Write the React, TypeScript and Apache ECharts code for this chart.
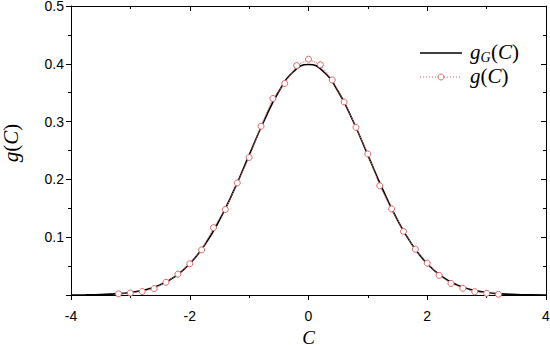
import { useEffect, useRef } from "react";
import * as echarts from "echarts";

const gaussC = [
  -4, -3.75, -3.5, -3.25, -3, -2.75, -2.5, -2.25, -2, -1.75, -1.5, -1.25, -1, -0.75, -0.5, -0.25, 0,
  0.25, 0.5, 0.75, 1, 1.25, 1.5, 1.75, 2, 2.25, 2.5, 2.75, 3, 3.25, 3.5, 3.75, 4,
];
const gaussY = [
  0.0001, 0.0004, 0.0009, 0.002, 0.0044, 0.0091, 0.0175, 0.0317, 0.054, 0.0863, 0.1295, 0.1826,
  0.242, 0.3011, 0.3521, 0.3867, 0.3989, 0.3867, 0.3521, 0.3011, 0.242, 0.1826, 0.1295, 0.0863,
  0.054, 0.0317, 0.0175, 0.0091, 0.0044, 0.002, 0.0009, 0.0004, 0.0001,
];
const sampleC = [
  -3.2, -3.0, -2.8, -2.6, -2.4, -2.2, -2.0, -1.8, -1.6, -1.4, -1.2, -1.0, -0.8, -0.6, -0.4, -0.2, 0,
  0.2, 0.4, 0.6, 0.8, 1.0, 1.2, 1.4, 1.6, 1.8, 2.0, 2.2, 2.4, 2.6, 2.8, 3.0, 3.2,
];
const sampleY = [
  0.002, 0.0035, 0.006, 0.011, 0.022, 0.036, 0.054, 0.078, 0.1165, 0.148, 0.194, 0.238, 0.292,
  0.34, 0.366, 0.397, 0.408, 0.3985, 0.372, 0.334, 0.29, 0.244, 0.189, 0.149, 0.11, 0.079, 0.055,
  0.034, 0.02, 0.0116, 0.0057, 0.003, 0.0012,
];
const xRange = [-4, 4];
const yRange = [0, 0.5];

export default function App() {
  const ref = useRef<HTMLDivElement>(null);
  useEffect(() => {
    const chart = echarts.init(ref.current!, null, { renderer: "svg" });
    const serif = "'Liberation Serif', 'DejaVu Serif', serif";
    const sans = "'Liberation Sans', Arial, sans-serif";
    const red = "#e06464";
    const rich: any = {
      i: { fontFamily: serif, fontStyle: "italic", fontSize: 21, color: "#000", lineHeight: 18 },
      n: { fontFamily: serif, fontSize: 21, color: "#000", lineHeight: 18 },
    };
    const grich: any = {
      i: { fontFamily: serif, fontStyle: "italic", fontSize: 21, fill: "#000", lineHeight: 18 },
      n: { fontFamily: serif, fontSize: 21, fill: "#000", lineHeight: 18 },
    };
    const gtext = (x: number, y: number, text: string, size: number, italic: boolean) => ({
      type: "text",
      x,
      y,
      style: {
        text,
        fontFamily: serif,
        fontStyle: italic ? "italic" : "normal",
        fontSize: size,
        fill: "#000",
        verticalAlign: "middle",
        align: "left",
      },
    });
    const axisLine = { show: true, onZero: false, lineStyle: { color: "#000", width: 1 } };
    const xBase = {
      type: "value" as const,
      min: xRange[0],
      max: xRange[1],
      interval: 2,
      splitLine: { show: false },
      axisLine,
    };
    const yBase = {
      type: "value" as const,
      min: yRange[0],
      max: yRange[1],
      interval: 0.1,
      splitLine: { show: false },
      axisLine,
    };
    chart.setOption({
      animation: false,
      backgroundColor: "#fff",
      grid: { left: 71, right: 4, top: 6, bottom: 50, outerBoundsMode: "none", containLabel: false },
      graphic: [
        {
          type: "line",
          shape: { x1: 420, y1: 53, x2: 462, y2: 53 },
          style: { stroke: "#000", lineWidth: 1.6 },
        },
        gtext(470, 52, "g", 21, true),
        gtext(480.5, 57, "G", 14, true),
        {
          type: "text",
          x: 491,
          y: 52,
          style: { text: "{n|(}{i|C}{n|)}", rich: grich, verticalAlign: "middle", align: "left" },
        },
        {
          type: "line",
          shape: { x1: 420, y1: 77, x2: 462, y2: 77 },
          style: { stroke: red, lineWidth: 1, lineDash: [1, 2] },
        },
        {
          type: "circle",
          shape: { cx: 441, cy: 77, r: 3 },
          style: { fill: "#fff", stroke: red, lineWidth: 1 },
        },
        {
          type: "text",
          x: 470,
          y: 76,
          style: {
            text: "{i|g}{n|(}{i|C}{n|)}",
            rich: grich,
            verticalAlign: "middle",
            align: "left",
          },
        },
      ],
      xAxis: [
        {
          ...xBase,
          position: "bottom",
          axisTick: { show: true, length: 5, lineStyle: { color: "#000" } },
          minorTick: { show: true, splitNumber: 2, length: 3, lineStyle: { color: "#000" } },
          axisLabel: { color: "#000", fontSize: 14, fontFamily: sans, margin: 14 },
          name: "C",
          nameLocation: "middle",
          nameMoveOverlap: false,
          nameGap: 33,
          nameTextStyle: {
            fontFamily: serif,
            fontStyle: "italic",
            fontSize: 19,
            lineHeight: 18,
            color: "#000",
          },
        },
        {
          ...xBase,
          position: "top",
          axisTick: { show: true, inside: true, length: 5, lineStyle: { color: "#000" } },
          minorTick: { show: true, splitNumber: 2, length: 3, lineStyle: { color: "#000" } },
          axisLabel: { show: false },
        },
      ],
      yAxis: [
        {
          ...yBase,
          position: "left",
          axisTick: { show: true, length: 5, lineStyle: { color: "#000" } },
          minorTick: { show: true, splitNumber: 2, length: 3, lineStyle: { color: "#000" } },
          axisLabel: {
            color: "#000",
            fontSize: 14,
            lineHeight: 12,
            fontFamily: sans,
            margin: 7,
            formatter: (v: number) => (v === 0 ? "" : v.toFixed(1)),
          },
          name: "{i|g}{n|(}{i|C}{n|)}",
          nameLocation: "middle",
          nameGap: 51,
          nameTextStyle: { rich, padding: [0, 0, 0, 15] },
        },
        {
          ...yBase,
          position: "right",
          axisTick: { show: true, inside: true, length: 5, lineStyle: { color: "#000" } },
          minorTick: { show: true, splitNumber: 2, length: 3, lineStyle: { color: "#000" } },
          axisLabel: { show: false },
        },
      ],
      series: [
        {
          name: "gG",
          type: "line",
          xAxisIndex: 0,
          yAxisIndex: 0,
          data: gaussC.map((c, k) => [c, gaussY[k]]),
          smooth: true,
          symbol: "none",
          showSymbol: false,
          color: "#000",
          lineStyle: { color: "#000", width: 1.6 },
          z: 2,
        },
        {
          name: "g",
          type: "line",
          xAxisIndex: 0,
          yAxisIndex: 0,
          data: sampleC.map((c, k) => [c, sampleY[k]]),
          symbol: "circle",
          symbolSize: 6,
          color: red,
          itemStyle: { color: "#fff", borderColor: red, borderWidth: 1 },
          lineStyle: { color: red, width: 1, type: "dotted" },
          z: 3,
        },
      ],
    });
    return () => chart.dispose();
  }, []);
  return (
    <div
      ref={ref}
      style={{ position: "fixed", left: 0, top: 0, width: 550, height: 345 }}
    />
  );
}
